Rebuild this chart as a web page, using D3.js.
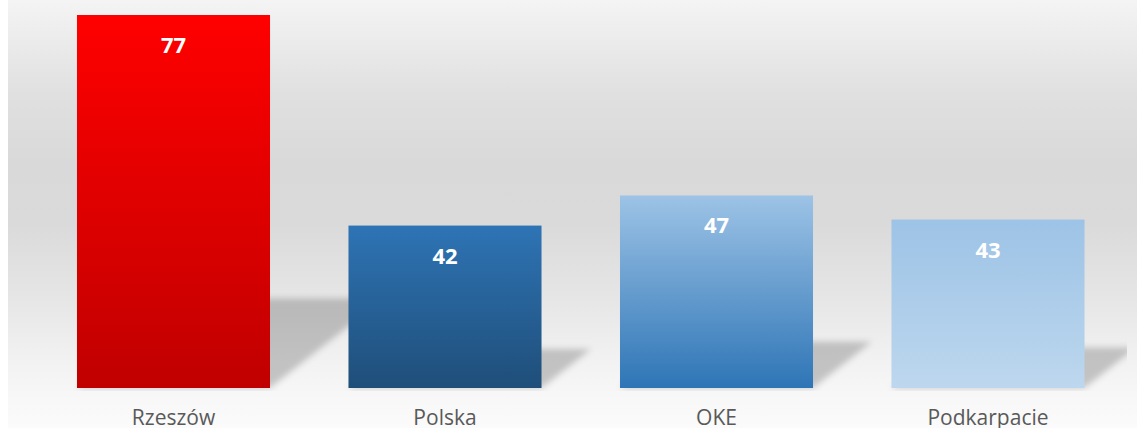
<!DOCTYPE html>
<html><head><meta charset="utf-8">
<script src="https://cdn.jsdelivr.net/npm/d3@7"></script>
<style>html,body{margin:0;padding:0;background:#fff;}svg{display:block;}</style>
</head><body>
<script>
const categories = ["Rzeszów", "Polska", "OKE", "Podkarpacie"];
const values = [77, 42, 47, 43];
const gradTop = ["#ff0000", "#2e74b5", "#9dc3e6", "#9dc3e6"];
const gradBottom = ["#c00000", "#1f4e79", "#2e75b6", "#bdd7ee"];

const W = 1137, H = 428;
const svg = d3.select("body").append("svg").attr("width", W).attr("height", H);
const defs = svg.append("defs");

// background gradient
const bg = defs.append("linearGradient").attr("id", "bg").attr("x1", 0).attr("y1", 0).attr("x2", 0).attr("y2", 1);
[[0, "#f4f4f4"], [0.22, "#e0e0e0"], [0.38, "#d9d9d9"], [0.52, "#dadada"], [0.7, "#e6e6e6"], [0.82, "#f0f0f0"], [0.92, "#f7f7f7"], [1, "#fbfbfb"]]
  .forEach(([o, c]) => bg.append("stop").attr("offset", o).attr("stop-color", c));
svg.append("rect").attr("x", 8).attr("y", 0).attr("width", W - 8).attr("height", H).attr("fill", "url(#bg)");

values.forEach((v, i) => {
  const g = defs.append("linearGradient").attr("id", "g" + i).attr("x1", 0).attr("y1", 0).attr("x2", 0).attr("y2", 1);
  g.append("stop").attr("offset", 0).attr("stop-color", gradTop[i]);
  g.append("stop").attr("offset", 1).attr("stop-color", gradBottom[i]);
});
defs.append("filter").attr("id", "blur").attr("x", "-20%").attr("y", "-20%").attr("width", "140%").attr("height", "140%")
  .append("feGaussianBlur").attr("stdDeviation", 3);
defs.append("clipPath").attr("id", "clip").append("rect").attr("x", 8).attr("y", 0).attr("width", 1119).attr("height", 391);

const x = d3.scaleBand().domain(categories).range([37.75, 1123.75]).paddingInner(0.289).paddingOuter(0.1445);
const y = d3.scaleLinear().domain([15, 77]).range([388, 15]);

const data = categories.map((c, i) => ({c, v: values[i], i}));

// shadows
const sh = svg.append("g").attr("clip-path", "url(#clip)");
sh.selectAll("path").data(data).join("path")
  .attr("d", d => {
    const x0 = x(d.c), x1 = x0 + x.bandwidth();
    const h = y(15) - y(d.v);
    const sH = 0.24 * h, s = 1.27 * sH;
    const b = y(15);
    return `M${x0},${b}L${x1},${b}L${x1 + s},${b - sH}L${x0 + s},${b - sH}Z`;
  })
  .attr("fill", "#000").attr("fill-opacity", 0.2).attr("filter", "url(#blur)");

// bars
svg.append("g").selectAll("rect").data(data).join("rect")
  .attr("x", d => x(d.c)).attr("width", x.bandwidth())
  .attr("y", d => y(d.v)).attr("height", d => y(15) - y(d.v))
  .attr("fill", d => `url(#g${d.i})`);

// value labels
svg.append("g").selectAll("text").data(data).join("text")
  .attr("x", d => x(d.c) + x.bandwidth() / 2).attr("y", d => y(d.v) + 38)
  .attr("text-anchor", "middle").attr("fill", "#fff")
  .attr("font-family", "Open Sans, sans-serif").attr("font-weight", "bold").attr("font-size", 22)
  .text(d => d.v);

// category axis
const ax = svg.append("g").attr("transform", `translate(0,${y(15)})`)
  .call(d3.axisBottom(x).tickSize(0).tickPadding(22));
ax.select(".domain").remove();
ax.selectAll("text").attr("fill", "#595959").attr("font-family", "Open Sans, sans-serif").attr("font-size", 21);
</script>
</body></html>
